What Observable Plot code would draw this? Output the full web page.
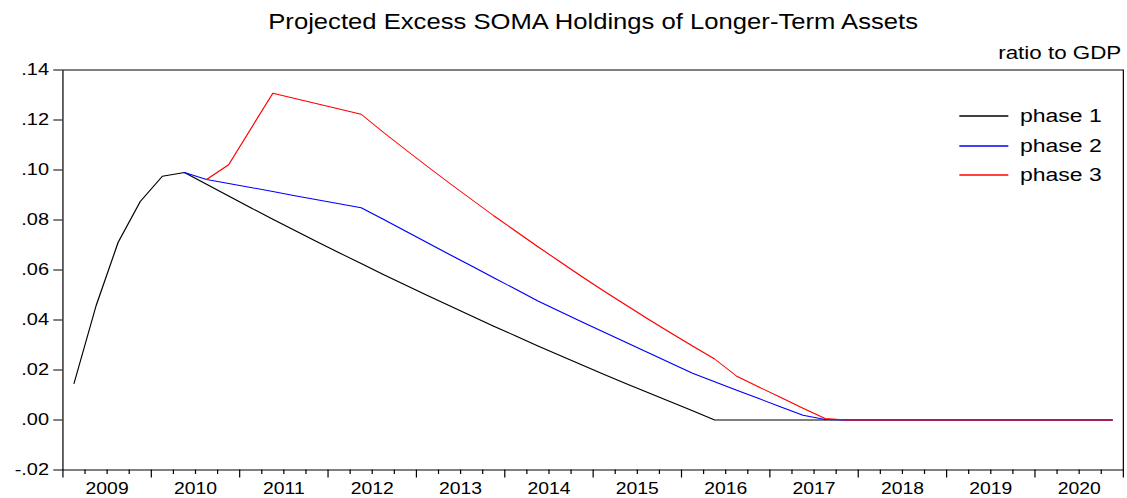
<!DOCTYPE html>
<html><head><meta charset="utf-8">
<script src="https://cdn.jsdelivr.net/npm/d3@7"></script>
<script src="https://cdn.jsdelivr.net/npm/@observablehq/plot@0.6"></script>
<style>
body{margin:0;background:#fff;}
#wrap{position:relative;width:931px;height:498px;transform:scaleX(1.2105);transform-origin:0 0;font-family:"Liberation Sans",Arial,sans-serif;}
#legend{position:absolute;left:0;top:0;pointer-events:none;}
</style></head><body><div id="wrap"></div>
<script>
const chartTitle = "Projected Excess SOMA Holdings of Longer-Term Assets";
const unitLabel = "ratio to GDP";
const seriesNames = ["phase 1", "phase 2", "phase 3"];
const seriesColors = ["#000000", "#0000ff", "#ff0000"];
const firstYear = 2009;
const yearLabels = ["2009","2010","2011","2012","2013","2014","2015","2016","2017","2018","2019","2020"];
const yTicks = [-0.02, 0, 0.02, 0.04, 0.06, 0.08, 0.10, 0.12, 0.14];
const yTickLabels = ["-.02", ".00", ".02", ".04", ".06", ".08", ".10", ".12", ".14"];

// quarterly observations 2009Q1 .. 2020Q4
const phase1 = [0.0146,0.0457,0.0711,0.0874,0.0975,0.0990,0.0943,0.0896,0.0849,0.0803,
  0.0758,0.0713,0.0669,0.0626,0.0582,0.0540,0.0498,0.0457,0.0416,0.0375,
  0.0336,0.0296,0.0258,0.0220,0.0182,0.0145,0.0109,0.0073,0.0037,0.0000,
  0,0,0,0,0,0,0,0,0,0,0,0,0,0,0,0,0,0];
const phase2 = [null,null,null,null,null,0.0990,0.0962,0.0946,0.0930,0.0914,
  0.0897,0.0881,0.0865,0.0849,0.0803,0.0756,0.0709,0.0662,0.0616,0.0569,
  0.0523,0.0476,0.0434,0.0392,0.0351,0.0310,0.0269,0.0228,0.0187,0.0153,
  0.0119,0.0086,0.0052,0.0019,0.0002,0,0,0,0,0,0,0,0,0,0,0,0,0];
const phase3 = [null,null,null,null,null,null,0.0962,0.1021,0.1164,0.1307,
  0.1286,0.1265,0.1244,0.1223,0.1151,0.1082,0.1014,0.0947,0.0882,0.0817,
  0.0755,0.0693,0.0633,0.0573,0.0515,0.0459,0.0403,0.0349,0.0296,0.0244,
  0.0175,0.0132,0.0090,0.0047,0.0006,0,0,0,0,0,0,0,0,0,0,0,0,0];
const seriesValues = [phase1, phase2, phase3];

// period midpoints (each quarter plotted at its middle)
const periodPos = phase1.map((_, i) => firstYear + Math.floor(i / 4) + ((i % 4) + 0.5) / 4);
const seriesData = seriesValues.map((vals, s) =>
  vals.map((v, i) => ({t: periodPos[i], value: v == null ? NaN : v, series: seriesNames[s]})));

const lastYearEnd = firstYear + yearLabels.length;
const majorTicks = d3.range(firstYear, lastYearEnd + 1);
const minorTicks = d3.range(firstYear * 4, lastYearEnd * 4 + 1).filter(q => q % 4 !== 0).map(q => q / 4);
const yearMids = yearLabels.map((_, i) => firstYear + i + 0.5);

const W = 931, H = 498;
const mTop = 69.5, mBottom = 28.5, mLeft = 51.5, mRight = 3.5;
const font = "'Liberation Sans', Arial, sans-serif";

const chart = Plot.plot({
  width: W, height: H,
  marginTop: mTop, marginBottom: mBottom, marginLeft: mLeft, marginRight: mRight,
  style: {fontFamily: font, fontSize: "16px", color: "#000", background: "#fff"},
  x: {domain: [firstYear, lastYearEnd], label: null},
  y: {domain: [yTicks[0], yTicks[yTicks.length - 1]], label: null},
  marks: [
    Plot.axisY({ticks: yTicks, tickSize: 7.5, tickPadding: 4, fontSize: 16.5, label: null,
      tickFormat: d => yTickLabels[yTicks.indexOf(d)]}),
    Plot.axisX({ticks: majorTicks, tickSize: 8, label: null, tickFormat: () => ""}),
    Plot.axisX({ticks: minorTicks, tickSize: 4.5, label: null, tickFormat: () => ""}),
    Plot.axisX({ticks: yearMids, tickSize: 0, tickPadding: 13, fontSize: 16, label: null,
      tickFormat: d => yearLabels[Math.floor(d) - firstYear]}),
    Plot.frame({stroke: "#000", strokeWidth: 1}),
    ...seriesData.map((data, s) => Plot.line(data, {x: "t", y: "value", stroke: seriesColors[s], strokeWidth: 1})),
    Plot.text([chartTitle], {text: d => d, frameAnchor: "top", lineAnchor: "bottom", dy: -41.2, fontSize: 21.2}),
    Plot.text([unitLabel], {text: d => d, frameAnchor: "top-right", textAnchor: "end", lineAnchor: "bottom", dx: -1.7, dy: -11.2, fontSize: 18.5})
  ]
});
const wrap = document.getElementById("wrap");
wrap.appendChild(chart);

// legend overlay
const leg = d3.create("svg").attr("id", "legend").attr("width", W).attr("height", H);
seriesNames.forEach((name, i) => {
  const yy = 116 + i * 29.5;
  leg.append("line").attr("x1", 792.5).attr("x2", 833).attr("y1", Math.round(yy)).attr("y2", Math.round(yy))
    .attr("stroke", seriesColors[i]).attr("stroke-width", 1.3);
  leg.append("text").attr("x", 842.6).attr("y", yy).attr("dy", "0.33em")
    .attr("font-family", font).attr("font-size", 19).attr("fill", "#000").text(name);
});
wrap.appendChild(leg.node());
</script></body></html>
